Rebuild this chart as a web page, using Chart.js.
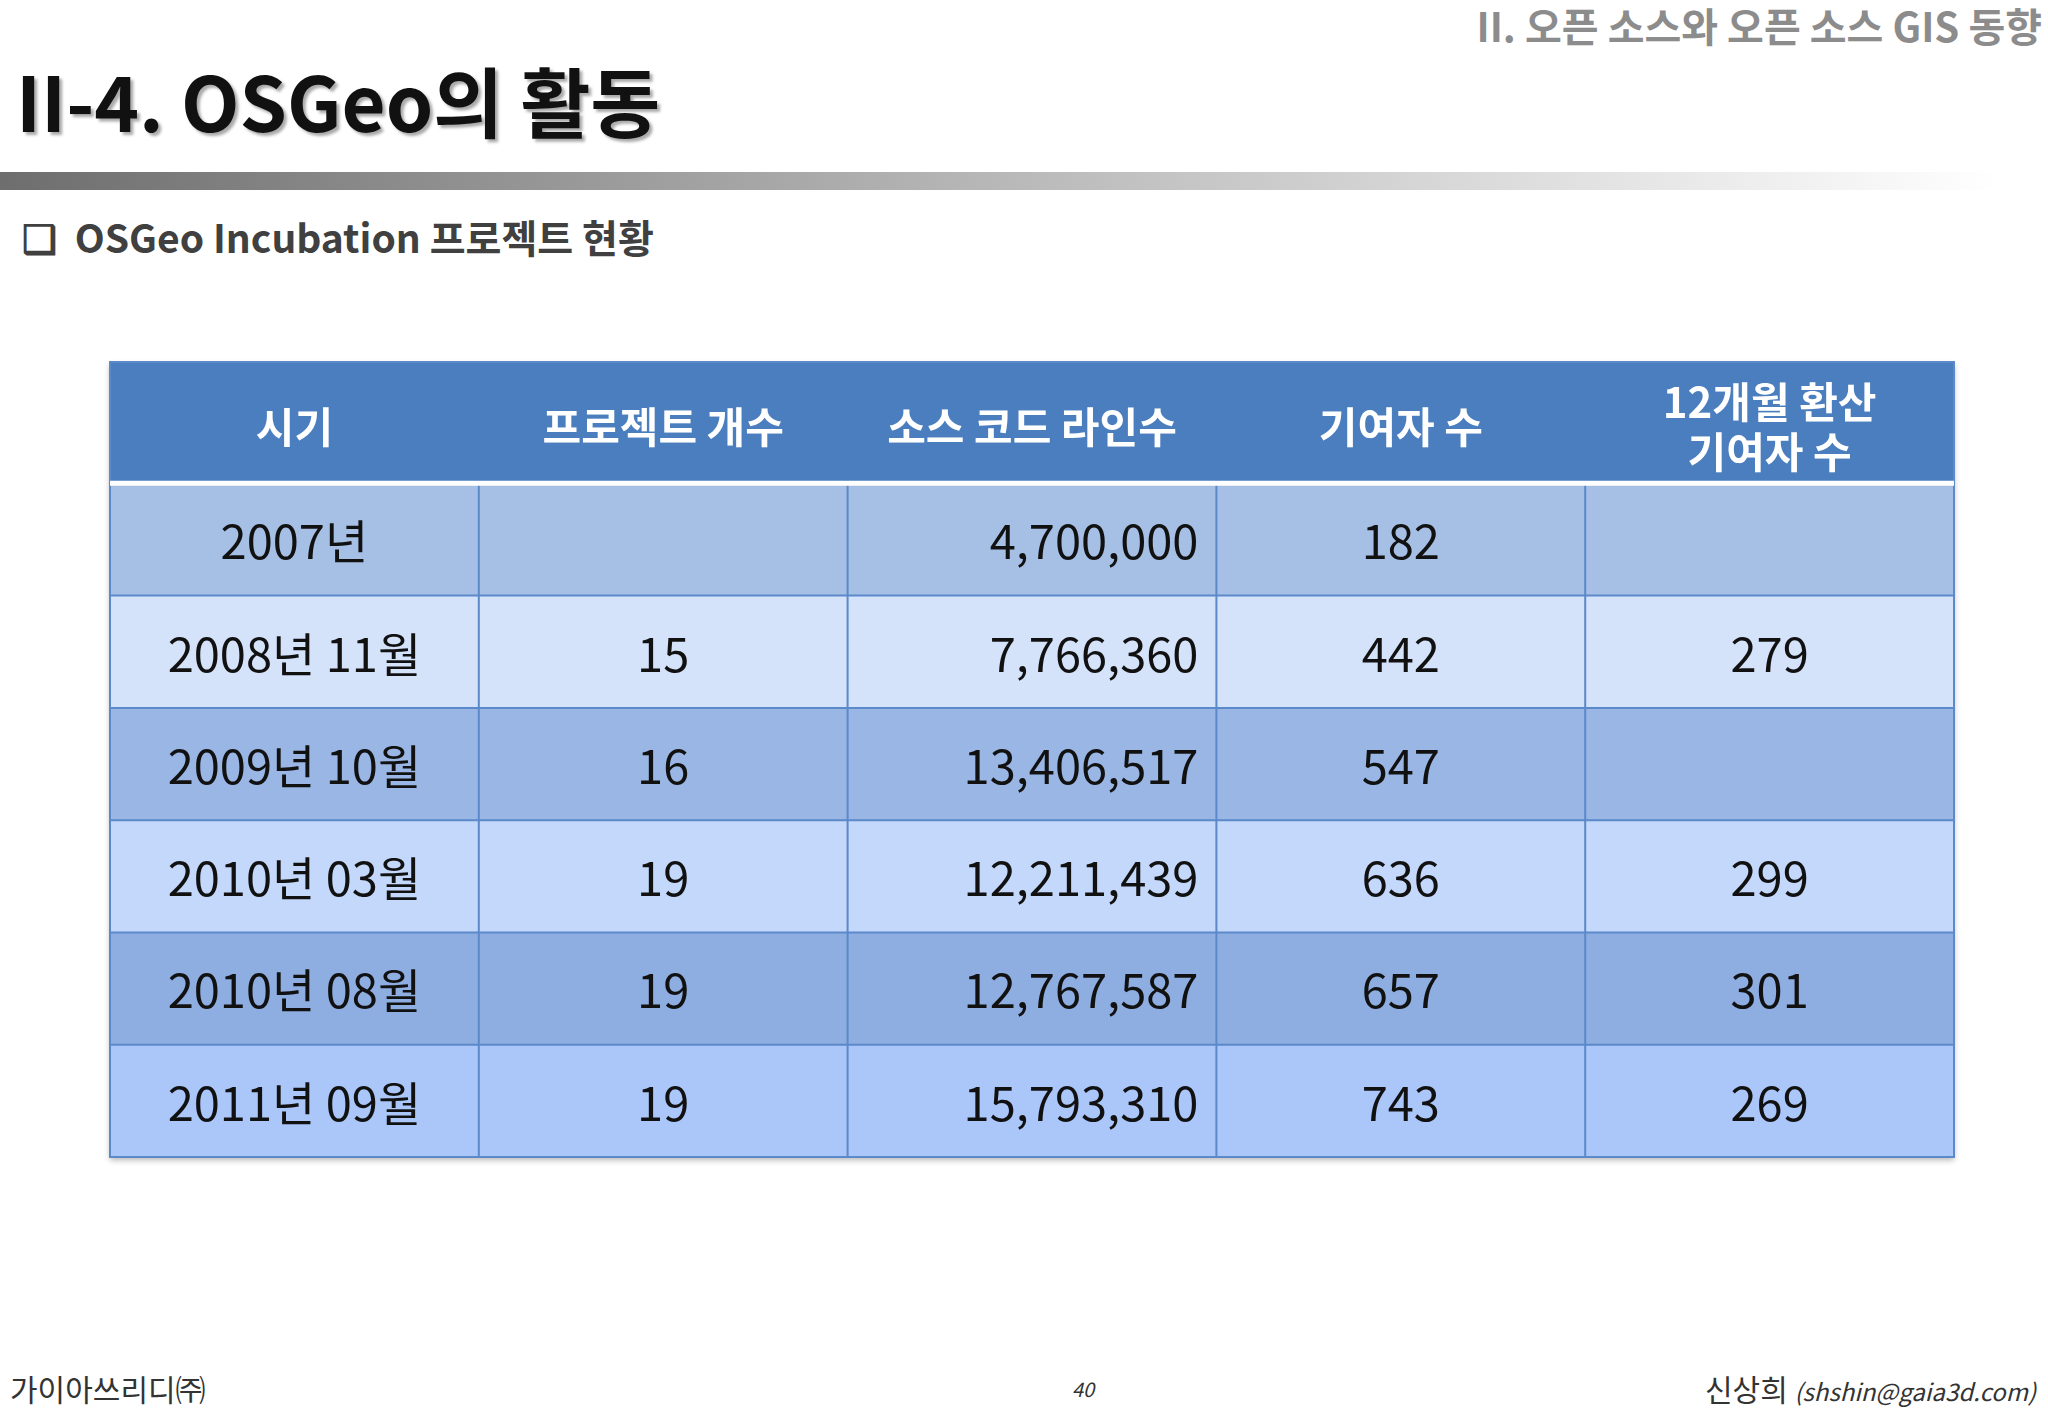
<!DOCTYPE html>
<html><head><meta charset="utf-8">
<script src="https://cdn.jsdelivr.net/npm/chart.js@4/dist/chart.umd.min.js"></script>
<style>
body{margin:0;width:2048px;height:1418px;background:#fff;position:relative;overflow:hidden;font-family:"Noto Sans CJK KR","Noto Sans",sans-serif}
.t{position:absolute;white-space:nowrap}
#bar{position:absolute;left:0;top:172px;width:2000px;height:18px;background:linear-gradient(to right,#6e6e6e,#b8b8b8 50%,#fff)}
</style></head><body>
<div class="t" style="right:6px;top:-4px;font-size:40px;font-weight:bold;color:#8c8c8c">II. 오픈 소스와 오픈 소스 GIS 동향</div>
<div class="t" style="left:16px;top:44px;font-size:76px;font-weight:bold;color:#111;text-shadow:3px 3px 3px #aaa">II-4. OSGeo의 활동</div>
<div id="bar"></div>
<div class="t" style="left:22px;top:208px;font-size:39px;font-weight:bold;color:#404040">❑&nbsp; OSGeo Incubation 프로젝트 현황</div>
<div class="t" style="left:10px;top:1366px;font-size:30px;color:#333">가이아쓰리디㈜</div>
<div class="t" style="left:1072px;top:1374px;font-size:20px;font-style:italic;color:#333">40</div>
<div class="t" style="right:12px;top:1366px;font-size:30px;color:#333">신상희 <span style="font-size:24px;font-style:italic">(shshin@gaia3d.com)</span></div>
<canvas id="c" width="2048" height="1418" style="position:absolute;left:0;top:0"></canvas>
<script>
'use strict';
// table content
const headers = ['시기', '프로젝트 개수', '소스 코드 라인수', '기여자 수', '12개월 환산\n기여자 수'];
const periods = ['2007년', '2008년 11월', '2009년 10월', '2010년 03월', '2010년 08월', '2011년 09월'];
const projectCounts = ['', '15', '16', '19', '19', '19'];
const codeLines = ['4,700,000', '7,766,360', '13,406,517', '12,211,439', '12,767,587', '15,793,310'];
const contributors = ['182', '442', '547', '636', '657', '743'];
const contributors12 = ['', '279', '', '299', '301', '269'];

const rowColors = ['#a6bfe4', '#d4e2fa', '#99b6e4', '#c4d8fb', '#8eade0', '#abc7fa'];
// row boundaries in y-scale units (header a bit taller)
const rowEdges = [0, 1.07, 2.06, 3.05, 4.04, 5.03, 6.02, 7.01];

const tablePlugin = {
  id: 'table',
  afterDraw(chart){
    const ctx = chart.ctx, xs = chart.scales.x, ys = chart.scales.y;
    const X = i => xs.getPixelForValue(i), Y = j => ys.getPixelForValue(rowEdges[j]);
    const cols = [periods, projectCounts, codeLines, contributors, contributors12];
    ctx.save();
    ctx.shadowColor = 'rgba(0,0,0,0.3)'; ctx.shadowBlur = 6; ctx.shadowOffsetY = 3;
    ctx.fillStyle = '#4f81bd';
    ctx.fillRect(X(0), Y(0), X(5) - X(0), Y(7) - Y(0));
    ctx.shadowColor = 'transparent';
    // header
    ctx.fillStyle = '#4a7ebe';
    ctx.fillRect(X(0), Y(0), X(5) - X(0), Y(1) - Y(0));
    ctx.fillStyle = '#fff'; ctx.font = 'bold 42px "Noto Sans CJK KR"';
    ctx.textAlign = 'center'; ctx.textBaseline = 'middle';
    headers.forEach((h, i) => {
      const lines = h.split('\n'), cx = (X(i) + X(i + 1)) / 2, cy = (Y(0) + Y(1)) / 2 + 4;
      lines.forEach((l, k) => ctx.fillText(l, cx, cy + (k - (lines.length - 1) / 2) * 50));
    });
    // body rows
    for (let r = 0; r < periods.length; r++){
      ctx.fillStyle = rowColors[r];
      ctx.fillRect(X(0), Y(r + 1), X(5) - X(0), Y(r + 2) - Y(r + 1));
      ctx.fillStyle = '#111'; ctx.font = '47px "Noto Sans CJK KR"';
      cols.forEach((col, i) => {
        const cy = (Y(r + 1) + Y(r + 2)) / 2 + 2;
        if (i === 2){ ctx.textAlign = 'right'; ctx.fillText(col[r], X(i + 1) - 18, cy); }
        else { ctx.textAlign = 'center'; ctx.fillText(col[r], (X(i) + X(i + 1)) / 2, cy); }
      });
    }
    // grid lines
    ctx.strokeStyle = '#5b89c9'; ctx.lineWidth = 2;
    for (let i = 1; i < 5; i++){ ctx.beginPath(); ctx.moveTo(X(i), Y(1)); ctx.lineTo(X(i), Y(7)); ctx.stroke(); }
    for (let j = 2; j < 7; j++){ ctx.beginPath(); ctx.moveTo(X(0), Y(j)); ctx.lineTo(X(5), Y(j)); ctx.stroke(); }
    ctx.strokeRect(X(0), Y(0), X(5) - X(0), Y(7) - Y(0));
    ctx.strokeStyle = '#fff'; ctx.lineWidth = 5;
    ctx.beginPath(); ctx.moveTo(X(0), Y(1)); ctx.lineTo(X(5), Y(1)); ctx.stroke();
    ctx.restore();
  }
};

new Chart(document.getElementById('c'), {
  type: 'scatter',
  data: {datasets: [{data: []}]},
  options: {
    responsive: false, animation: false,
    layout: {padding: {left: 110, right: 94, top: 362, bottom: 261}},
    plugins: {legend: {display: false}, tooltip: {enabled: false}},
    scales: {
      x: {type: 'linear', min: 0, max: 5, display: false},
      y: {type: 'linear', min: 0, max: 7.01, reverse: true, display: false}
    }
  },
  plugins: [tablePlugin]
});
</script>
</body></html>
